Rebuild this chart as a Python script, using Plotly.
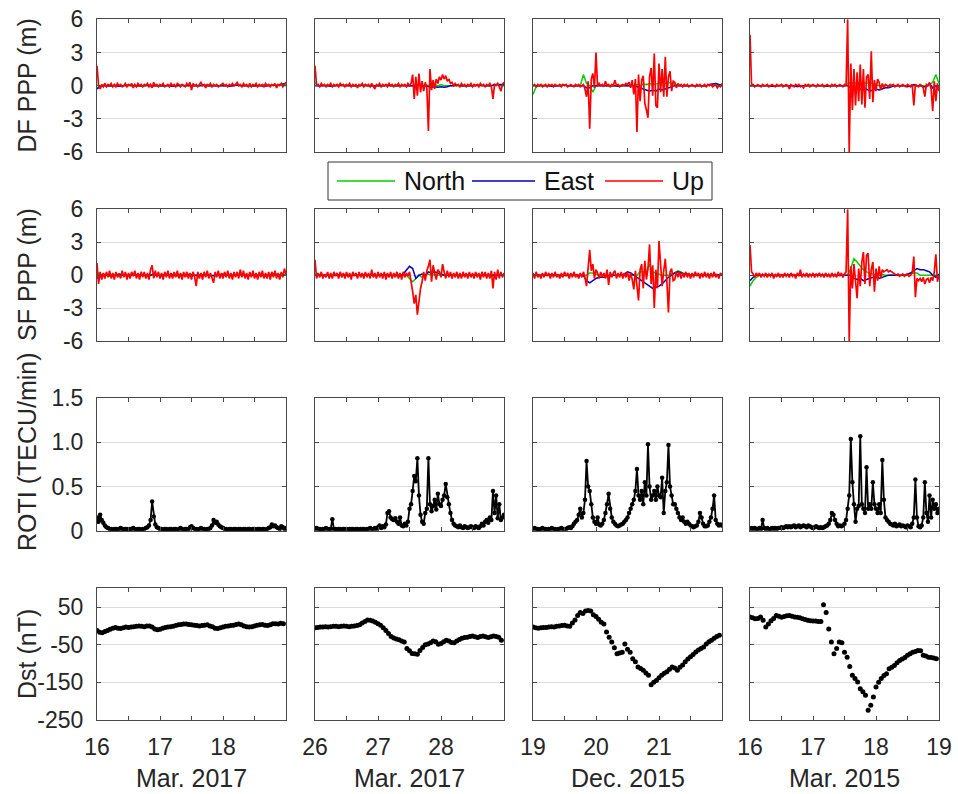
import numpy as np
import plotly.graph_objects as go
from plotly.subplots import make_subplots

# ---------------- data ----------------
DAY_STARTS = [16, 26, 19, 16]
MONTHS = ["Mar. 2017", "Mar. 2017", "Dec. 2015", "Mar. 2015"]
XTICK_TEXT = [["16", "", "17", "", "18", "", ""],
              ["26", "", "27", "", "28", "", ""],
              ["19", "", "20", "", "21", "", ""],
              ["16", "", "17", "", "18", "", "19"]]
ROW_TITLES = ["DF PPP (m)", "SF PPP (m)", "ROTI (TECU/min)", "Dst (nT)"]

# DF PPP Up (m), 121 samples over 3 days
DF_UP_1 = [1.8,0.0,-0.3,0.1,-0.1,0.2,-0.1,0.1,0.0,0.2,
 -0.1,0.1,-0.1,0.2,0.0,0.1,-0.1,0.0,0.2,-0.1,
 0.1,0.0,0.2,-0.2,0.1,-0.1,0.2,0.0,0.1,-0.1,
 0.1,0.0,0.2,-0.1,0.1,-0.2,0.3,0.0,0.1,-0.1,
 0.1,0.0,0.2,-0.1,0.0,0.1,-0.1,0.2,0.0,0.1,
 -0.1,0.2,0.1,-0.1,0.1,0.0,-0.1,0.2,0.0,0.3,
 -0.4,0.2,0.0,0.1,-0.1,0.1,0.3,0.0,0.1,-0.2,
 0.1,0.0,0.2,-0.1,0.1,0.0,0.1,-0.1,0.0,0.1,
 0.2,0.0,0.1,-0.1,0.1,0.0,0.2,0.0,0.1,0.3,
 0.0,0.1,-0.1,0.2,0.0,0.1,-0.1,0.2,-0.1,0.1,
 0.0,0.2,-0.1,0.1,0.0,0.1,-0.1,0.2,0.0,0.1,
 -0.1,0.1,0.0,0.2,-0.2,0.1,0.0,0.2,-0.1,0.1,0.3]
DF_UP_2 = [1.8,0.0,0.1,-0.1,0.2,0.0,0.1,-0.1,0.1,0.0,
 0.2,-0.1,0.1,0.0,0.1,-0.1,0.2,0.0,0.1,-0.1,
 0.1,0.0,0.2,-0.1,0.1,0.0,0.1,-0.2,0.1,0.0,
 0.2,-0.1,0.1,0.0,0.1,-0.1,0.2,0.0,-0.3,0.1,
 0.0,0.2,-0.1,0.1,0.0,0.1,-0.1,0.2,0.0,0.1,
 -0.1,0.1,0.0,0.2,-0.1,0.1,0.0,0.1,-0.1,0.2,
 0.0,0.2,1.0,-1.2,0.8,-0.9,1.1,-0.6,0.4,-0.5,
 0.3,-0.2,-4.1,1.5,-0.4,0.5,-0.3,0.6,0.2,0.8,
 0.5,1.0,0.6,0.9,0.4,0.6,0.2,0.3,0.0,0.2,
 0.0,0.1,-0.1,0.2,0.0,0.1,-0.1,0.1,0.0,0.2,
 -0.1,0.1,0.0,0.1,-0.1,0.2,0.0,0.1,-0.1,0.1,
 0.0,0.2,-0.1,-1.2,0.1,0.0,0.2,-0.1,-0.5,0.1,0.3]
DF_UP_3 = [0.0,0.1,-0.1,0.1,0.0,0.1,-0.1,0.0,0.1,-0.1,
 0.1,0.0,0.1,-0.1,0.1,0.0,0.0,0.1,-0.1,0.1,
 0.0,0.1,-0.1,0.0,0.1,0.0,-0.1,0.1,0.0,0.1,
 -0.1,0.0,0.1,-0.3,-1.0,0.4,-3.9,0.6,1.1,-0.2,
 3.0,-0.1,0.2,0.0,0.1,-0.1,0.4,0.0,0.1,-0.1,
 0.1,0.0,0.5,0.0,0.1,-0.1,0.0,0.1,0.0,0.2,
 0.1,0.3,-0.2,0.5,-0.8,0.6,-4.2,1.0,-1.4,0.5,
 0.9,-1.6,-2.2,-2.9,0.8,1.6,-0.9,2.9,-1.8,-2.0,
 2.0,-0.6,1.5,-1.0,2.6,-1.0,0.8,1.3,-0.5,0.4,
 0.3,-0.2,0.2,0.0,0.1,-0.1,0.1,0.0,0.1,-0.1,
 0.0,0.1,0.0,-0.1,0.1,0.0,0.1,-0.1,0.0,0.1,
 -0.1,0.1,0.0,0.1,-0.1,0.0,0.1,-0.2,0.0,-0.1,0.2]
DF_UP_4 = [4.6,0.0,0.1,-0.1,0.0,0.1,0.0,-0.1,0.1,0.0,
 0.0,0.1,-0.1,0.0,0.1,0.0,-0.1,0.1,0.0,0.0,
 0.1,-0.1,0.0,0.1,0.0,-0.3,0.1,0.0,-0.1,0.1,
 0.0,0.1,-0.1,0.0,-0.2,0.1,0.0,0.1,-0.1,0.0,
 0.1,0.0,-0.1,0.1,0.0,0.0,0.1,-0.1,0.0,0.1,
 0.0,-0.1,0.1,0.0,0.1,-0.1,0.0,0.1,0.0,-0.1,
 0.1,0.0,6.0,-6.0,2.0,-2.2,1.5,-1.8,1.2,-1.4,
 1.9,-1.7,1.5,-2.0,0.8,1.0,-1.2,3.1,-1.5,0.5,
 -0.5,0.6,0.3,-0.4,0.2,-0.2,0.1,0.0,-0.1,0.1,
 0.0,0.1,-0.1,0.0,0.1,-0.1,0.0,0.1,0.0,-0.1,
 0.1,0.0,-0.1,0.1,-1.8,0.1,0.0,-0.1,0.1,0.0,
 -0.2,-1.0,0.1,0.0,0.3,-0.3,-2.3,0.4,-1.4,0.2,-0.5]

# SF PPP Up (m), 121 samples over 3 days
SF_UP_1 = [1.1,-0.8,0.3,-0.4,0.2,-0.3,0.3,-0.2,0.4,-0.3,
 0.2,-0.4,0.3,-0.2,0.1,-0.3,0.4,-0.2,0.3,-0.4,
 0.2,-0.3,0.3,-0.1,0.4,-0.3,0.2,-0.4,0.3,-0.2,
 0.3,-0.3,0.2,-0.4,0.5,0.9,-0.3,0.4,-0.2,0.3,
 -0.3,0.2,-0.4,0.3,-0.2,0.4,-0.3,0.2,-0.3,0.3,
 -0.2,0.4,-0.3,0.2,-0.4,0.3,-0.2,0.3,-0.3,0.2,
 -0.4,0.3,-0.2,-1.0,0.3,-0.3,0.2,-0.4,0.3,-0.2,
 0.4,-0.3,0.2,-0.3,-0.7,0.3,-0.2,0.4,-0.3,0.2,
 -0.3,0.3,-0.2,0.4,-0.3,0.2,-0.4,0.3,-0.2,0.3,
 -0.3,0.5,-0.2,0.4,-0.3,0.2,-0.4,0.3,-0.2,0.4,
 -0.3,0.2,-0.4,0.3,-0.2,0.4,-0.3,0.2,-0.3,0.3,
 -0.4,0.3,-0.2,0.4,-0.3,0.2,-0.4,0.3,-0.2,0.6,0.1]
SF_UP_2 = [1.4,-0.3,0.2,-0.2,0.3,-0.3,0.1,-0.2,0.3,-0.3,
 0.2,-0.3,0.3,-0.1,0.2,-0.3,0.3,-0.2,0.2,-0.3,
 0.3,-0.2,0.2,-0.4,0.3,-0.1,0.2,-0.3,0.3,-0.2,
 0.2,-0.3,0.3,-0.2,0.2,-0.3,0.5,-0.2,0.2,-0.3,
 0.3,-0.2,0.2,-0.3,0.3,-0.4,0.2,-0.2,0.3,-0.3,
 0.2,-0.2,0.3,-0.3,0.2,-0.4,0.3,-0.2,0.2,-0.1,
 0.3,-0.5,-1.5,-2.6,-1.8,-3.6,-2.4,-1.2,-0.6,0.3,
 -0.5,0.4,0.8,1.4,-0.6,0.9,0.2,-0.4,0.5,0.3,
 -0.2,1.0,0.3,-0.3,0.4,-0.2,0.3,-0.3,0.2,-0.2,
 0.3,-0.3,0.2,-0.3,0.3,-0.2,0.2,-0.3,0.3,-0.2,
 0.2,-0.3,0.3,-0.2,0.2,-0.4,0.3,-0.2,0.3,-0.3,
 0.2,-0.3,0.4,-1.2,0.3,-0.4,0.5,-0.3,0.3,-0.2,0.2]
SF_UP_3 = [0.2,-0.3,0.3,-0.2,0.1,-0.3,0.2,-0.2,0.3,-0.1,
 0.2,-0.3,0.2,-0.2,0.3,-0.2,0.1,-0.3,0.2,-0.2,
 0.3,-0.1,0.2,-0.3,0.2,-0.2,0.3,-0.2,0.1,-0.3,
 0.2,-0.2,0.3,-0.2,-1.0,0.6,2.3,0.4,1.0,-0.3,
 0.5,0.2,-0.3,0.3,-0.2,0.2,-0.3,0.5,-0.9,0.3,
 -0.2,0.2,0.4,-0.3,0.2,-0.2,0.3,-0.3,0.2,-0.2,
 0.3,-0.5,0.2,-0.4,-1.3,0.4,-0.8,-2.3,0.5,1.0,
 -1.2,1.3,-0.4,0.6,2.8,-0.8,0.9,-3.0,0.5,-1.2,
 3.1,1.0,-1.0,0.4,1.5,-0.6,-3.4,0.3,0.6,-0.5,
 -0.4,0.3,-0.2,0.3,-0.3,0.2,-0.2,0.3,-0.2,0.2,
 -0.3,0.2,-0.2,0.3,-0.1,0.2,-0.3,0.2,-0.2,0.3,
 -0.2,0.2,-0.3,0.2,-0.2,0.3,-0.2,0.1,-0.3,0.2,0.0]
SF_UP_4 = [2.75,0.3,0.1,-0.2,0.2,-0.1,0.2,-0.2,0.1,-0.1,
 0.2,-0.2,0.1,-0.1,0.2,-0.3,0.1,-0.1,0.2,-0.2,
 0.1,-0.2,0.2,-0.1,0.1,-0.2,0.2,-0.1,0.1,-0.3,
 0.2,-0.1,0.5,-0.2,0.1,-0.1,0.2,-0.2,0.1,-0.1,
 0.2,-0.2,0.1,-0.1,0.2,-0.1,0.1,-0.2,0.2,-0.1,
 0.1,-0.2,0.2,-0.1,0.1,-0.2,0.3,-0.1,0.2,-0.2,
 0.1,0.3,6.0,-6.0,0.8,-1.2,1.0,-0.8,-2.1,0.6,
 -1.0,1.2,2.1,-0.8,1.8,2.0,-1.0,0.5,1.2,-1.5,
 0.6,-0.5,0.8,-0.3,0.5,0.3,0.4,0.5,0.3,0.4,
 0.3,0.2,0.1,0.0,0.1,-0.1,0.0,0.1,-0.1,0.0,
 0.1,-0.1,0.0,0.2,1.7,-2.0,-0.3,-0.5,-0.3,-0.6,
 -0.2,-0.8,-0.4,-0.3,-0.7,-0.2,-0.5,0.3,1.9,-0.6,0.0]

# North / East (m), 61 samples over 3 days
DF_N_1 = [-0.2,0.0,0.05,0.0,-0.05,0.0,0.05,0.0,0.0,-0.05,0.0,0.05,0.0,0.0,-0.05,0.0,0.0,0.05,0.0,0.0,
 0.0,-0.05,0.0,0.05,0.0,0.0,0.0,-0.05,0.0,0.05,0.0,0.0,0.0,0.05,0.0,-0.05,0.0,0.0,0.05,0.0,
 0.0,0.0,-0.05,0.0,0.05,0.0,0.0,0.0,0.05,0.0,-0.05,0.0,0.0,0.05,0.0,0.0,0.0,0.05,0.1,0.05,0.0]
DF_E_1 = [-0.3,-0.1,0.0,0.0,0.05,0.0,0.0,-0.05,0.0,0.0,0.05,0.0,0.0,0.0,-0.05,0.0,0.05,0.0,0.0,0.0,
 0.0,0.05,0.0,0.0,-0.05,0.0,0.0,0.05,0.0,0.0,0.0,-0.05,0.0,0.0,0.05,0.0,0.0,0.0,0.0,0.05,
 0.0,0.0,-0.05,0.0,0.0,0.05,0.0,0.0,0.0,0.0,0.05,0.0,0.0,-0.05,0.0,0.0,0.05,0.0,0.1,0.15,0.2]
DF_N_2 = [0.3,0.0,0.0,0.05,0.0,0.0,-0.05,0.0,0.0,0.05,0.0,0.0,0.0,-0.05,0.0,0.0,0.05,0.0,0.0,0.0,
 0.0,0.05,0.0,0.0,-0.05,0.0,0.0,0.0,0.05,0.0,0.0,0.0,0.0,0.1,-0.1,0.1,0.0,0.15,0.1,0.0,
 0.1,0.0,0.0,0.0,0.05,0.0,0.0,-0.05,0.0,0.0,0.0,0.05,0.0,0.0,0.0,-0.05,0.0,0.05,0.1,0.0,0.0]
DF_E_2 = [0.0,0.0,0.05,0.0,0.0,-0.05,0.0,0.0,0.05,0.0,0.0,0.0,-0.05,0.0,0.0,0.05,0.0,0.0,0.0,0.0,
 -0.05,0.0,0.0,0.05,0.0,0.0,0.0,0.0,-0.05,0.0,0.0,0.0,0.05,0.0,0.0,0.0,-0.1,-0.15,-0.1,-0.15,
 -0.1,-0.15,-0.1,0.0,0.0,0.05,0.0,0.0,0.0,-0.05,0.0,0.0,0.05,0.0,0.0,0.0,0.0,0.1,0.1,0.15,0.1]
DF_N_3 = [-0.8,-0.1,0.0,0.05,0.0,0.0,-0.05,0.0,0.0,0.05,0.0,0.0,0.0,-0.05,0.0,0.0,1.0,0.2,0.0,-0.6,
 0.0,0.05,0.0,0.0,0.0,-0.05,0.0,0.0,0.05,0.0,0.0,0.0,0.0,0.1,0.0,0.15,0.1,0.2,0.1,0.15,
 0.2,0.3,0.2,0.3,0.2,0.1,0.05,0.0,0.0,0.0,0.05,0.0,0.0,0.0,-0.05,0.0,0.0,0.05,0.0,0.0,0.0]
DF_E_3 = [0.0,0.0,0.05,0.0,0.0,0.0,-0.05,0.0,0.0,0.0,0.05,0.0,0.0,0.0,0.0,-0.05,0.0,-0.2,-0.2,0.0,
 0.0,0.0,0.05,0.0,0.0,0.0,0.0,-0.05,0.0,0.0,0.0,0.0,0.0,-0.1,-0.2,-0.3,-0.4,-0.5,-0.4,-0.5,
 -0.3,-0.4,-0.3,-0.2,-0.1,0.0,0.0,0.0,0.05,0.0,0.0,0.0,0.0,0.0,0.05,0.0,0.1,0.15,0.2,0.1,0.0]
DF_N_4 = [0.0,0.0,0.0,0.05,0.0,0.0,0.0,-0.05,0.0,0.0,0.05,0.0,0.0,0.0,0.0,0.0,-0.05,0.0,0.0,0.05,
 0.0,0.0,0.0,0.0,0.0,0.05,0.0,0.0,0.0,0.0,0.0,0.2,0.3,0.2,0.3,0.2,0.3,0.2,0.3,0.2,
 0.1,0.0,0.0,0.05,0.0,0.0,0.0,0.0,0.0,0.0,0.05,0.0,0.0,0.0,0.0,0.05,0.0,0.1,0.3,1.0,0.2]
DF_E_4 = [0.0,0.0,0.05,0.0,0.0,0.0,0.0,-0.05,0.0,0.0,0.0,0.0,0.05,0.0,0.0,-0.1,0.0,0.0,0.0,0.05,
 0.0,0.0,0.0,0.0,-0.05,0.0,0.0,0.0,0.0,0.0,0.0,0.0,-0.2,-0.3,-0.2,-0.3,-0.4,-0.3,-0.5,-0.4,
 -0.3,-0.4,-0.3,-0.2,-0.2,-0.1,0.0,0.0,0.0,0.0,-0.1,0.0,0.1,0.0,0.0,-0.1,-0.1,0.2,-0.2,0.0,-0.3]
SF_N_1 = [0.4,-0.2,0.1,0.0,-0.1,0.05,0.0,0.1,0.0,-0.05,0.0,0.1,0.0,-0.1,0.0,0.05,0.0,0.0,0.1,0.0,
 -0.05,0.0,0.1,0.0,0.0,-0.1,0.0,0.05,0.0,0.1,0.0,-0.05,0.0,0.0,0.1,0.0,-0.1,0.0,0.05,0.0,
 0.1,0.0,0.0,-0.05,0.0,0.1,0.0,0.0,-0.1,0.0,0.05,0.0,0.1,0.0,0.0,-0.05,0.0,0.1,0.0,0.05,0.0]
SF_E_1 = [-0.3,0.0,0.05,0.0,0.0,-0.05,0.0,0.1,0.0,0.0,-0.05,0.0,0.05,0.0,0.0,0.0,-0.05,0.0,0.1,0.0,
 0.0,0.0,-0.05,0.0,0.05,0.0,0.0,0.0,-0.1,0.0,0.05,0.0,0.0,0.0,0.0,0.05,0.0,-0.05,0.0,0.0,
 0.05,0.0,0.0,0.0,-0.05,0.0,0.1,0.0,0.0,0.0,0.05,0.0,0.0,-0.05,0.0,0.0,0.1,0.0,0.0,0.05,0.0]
SF_N_2 = [0.0,0.0,0.05,0.0,0.0,-0.05,0.0,0.0,0.05,0.0,0.0,0.0,-0.05,0.0,0.0,0.05,0.0,0.0,0.0,0.0,
 0.05,0.0,0.0,-0.05,0.0,0.0,0.0,0.05,0.0,0.0,-0.3,-0.6,-0.3,0.0,-0.2,0.0,0.1,0.0,0.05,0.0,
 0.0,0.05,0.0,0.0,0.0,-0.05,0.0,0.0,0.05,0.0,0.0,0.0,0.0,-0.05,0.0,0.0,0.05,0.0,0.0,0.0,0.0]
SF_E_2 = [0.0,0.05,0.0,0.0,-0.05,0.0,0.0,0.0,0.05,0.0,0.0,-0.05,0.0,0.0,0.0,0.05,0.0,0.0,0.0,-0.05,
 0.0,0.0,0.05,0.0,0.0,0.0,0.0,-0.05,0.1,0.5,0.8,0.6,-0.3,0.0,0.1,0.0,0.3,0.2,0.3,0.2,
 0.1,0.0,0.05,0.0,0.0,0.0,-0.05,0.0,0.0,0.05,0.0,0.0,0.0,0.0,0.05,0.0,0.0,-0.05,0.0,0.0,0.0]
SF_N_3 = [0.0,0.05,0.0,0.0,-0.05,0.0,0.0,0.05,0.0,0.0,0.0,-0.05,0.0,0.0,0.05,0.0,0.0,0.0,0.2,0.2,
 0.1,0.0,0.0,0.0,-0.2,0.0,0.0,0.05,0.0,0.0,0.0,0.0,0.05,0.0,0.3,0.3,0.3,1.0,0.3,0.2,
 0.1,0.0,0.0,0.0,0.1,0.2,0.4,0.3,0.1,0.0,0.0,0.05,0.0,0.0,0.0,-0.05,0.0,0.0,0.05,0.0,0.0]
SF_E_3 = [0.0,0.0,-0.05,0.0,0.0,0.05,0.0,0.0,0.0,-0.05,0.0,0.0,0.05,0.0,0.0,0.0,-0.05,-0.5,-0.7,-0.5,
 -0.3,-0.2,-0.2,-0.2,0.0,0.0,0.05,0.0,0.0,0.1,0.3,0.2,0.0,-0.2,-0.4,-0.6,-0.8,-1.0,-1.2,-1.1,
 -1.0,-0.8,-0.5,-0.2,0.0,0.2,0.3,0.2,0.1,0.1,0.0,0.0,0.05,0.0,0.0,0.0,-0.05,0.0,0.05,0.0,0.0]
SF_N_4 = [-1.0,-0.5,-0.2,0.0,0.0,0.05,0.0,0.0,-0.05,0.0,0.0,0.05,0.0,0.0,0.0,0.0,-0.05,0.0,0.0,0.05,
 0.0,0.0,0.0,0.0,0.05,0.0,0.0,-0.05,0.0,0.0,0.0,0.0,0.6,1.5,1.2,0.8,0.5,0.3,0.2,0.1,
 0.0,0.0,0.05,0.0,0.0,0.0,0.0,0.05,0.0,0.0,0.0,0.2,0.2,0.2,0.0,0.0,0.0,0.05,0.0,0.0,0.0]
SF_E_4 = [-0.5,-0.2,0.0,0.0,0.05,0.0,0.0,0.0,-0.05,0.0,0.0,0.0,0.05,0.0,0.0,0.0,0.0,-0.05,0.0,0.0,
 0.0,0.05,0.0,0.0,0.0,-0.05,0.0,0.0,0.0,0.05,0.0,0.0,0.0,-0.3,-0.4,-0.3,-0.5,-0.4,-0.3,-0.2,
 -0.1,-0.3,-0.2,-0.1,0.0,0.0,0.0,0.05,0.0,0.0,0.1,0.2,0.4,0.6,0.5,0.5,0.4,0.3,0.0,-0.2,0.1]

# ROTI (TECU/min), 121 samples over 3 days
ROTI_1 = [0.15,0.10,0.18,0.12,0.09,0.06,0.04,0.03,0.02,0.02,
 0.01,0.02,0.02,0.01,0.02,0.03,0.02,0.01,0.02,0.02,
 0.01,0.02,0.02,0.03,0.02,0.01,0.02,0.02,0.01,0.02,
 0.02,0.03,0.04,0.06,0.12,0.33,0.16,0.07,0.04,0.03,
 0.02,0.02,0.01,0.02,0.02,0.01,0.02,0.02,0.01,0.02,
 0.02,0.01,0.02,0.03,0.02,0.01,0.02,0.02,0.01,0.04,
 0.05,0.03,0.02,0.02,0.01,0.02,0.03,0.02,0.02,0.01,
 0.02,0.02,0.03,0.06,0.12,0.09,0.10,0.07,0.05,0.04,
 0.03,0.02,0.02,0.01,0.02,0.02,0.01,0.02,0.02,0.01,
 0.02,0.02,0.01,0.02,0.02,0.01,0.02,0.02,0.01,0.02,
 0.02,0.01,0.02,0.02,0.01,0.02,0.02,0.01,0.02,0.03,
 0.04,0.07,0.05,0.06,0.04,0.03,0.02,0.05,0.04,0.02,0.03]
ROTI_2 = [0.02,0.03,0.02,0.02,0.01,0.02,0.02,0.03,0.02,0.02,
 0.02,0.13,0.02,0.02,0.01,0.02,0.02,0.01,0.02,0.02,
 0.02,0.01,0.02,0.02,0.02,0.01,0.02,0.02,0.01,0.02,
 0.02,0.02,0.01,0.02,0.02,0.03,0.02,0.02,0.03,0.02,
 0.04,0.06,0.03,0.05,0.04,0.07,0.20,0.22,0.15,0.13,
 0.12,0.14,0.10,0.08,0.15,0.06,0.05,0.08,0.06,0.10,
 0.25,0.30,0.45,0.62,0.56,0.82,0.40,0.18,0.10,0.08,
 0.20,0.25,0.82,0.30,0.22,0.28,0.35,0.24,0.42,0.30,
 0.28,0.35,0.40,0.53,0.38,0.30,0.20,0.12,0.08,0.06,
 0.05,0.04,0.06,0.04,0.03,0.05,0.04,0.03,0.04,0.05,
 0.04,0.03,0.05,0.04,0.03,0.05,0.08,0.06,0.10,0.12,
 0.09,0.15,0.12,0.45,0.20,0.40,0.14,0.30,0.12,0.15,0.18]
ROTI_3 = [0.02,0.03,0.02,0.02,0.01,0.02,0.03,0.02,0.02,0.01,
 0.02,0.02,0.03,0.02,0.02,0.01,0.02,0.02,0.03,0.02,
 0.02,0.02,0.03,0.04,0.03,0.05,0.08,0.10,0.12,0.18,
 0.25,0.15,0.20,0.35,0.79,0.50,0.45,0.30,0.15,0.10,
 0.08,0.15,0.07,0.06,0.08,0.12,0.20,0.30,0.42,0.25,
 0.15,0.10,0.08,0.06,0.05,0.06,0.07,0.08,0.10,0.12,
 0.15,0.20,0.25,0.30,0.35,0.45,0.70,0.40,0.35,0.45,
 0.30,0.55,0.40,0.98,0.50,0.35,0.40,0.45,0.35,0.50,
 0.40,0.38,0.60,0.20,0.45,0.55,0.97,0.50,0.40,0.30,
 0.30,0.25,0.20,0.15,0.12,0.15,0.10,0.08,0.10,0.08,
 0.06,0.05,0.04,0.05,0.06,0.10,0.20,0.15,0.08,0.05,
 0.05,0.06,0.10,0.15,0.25,0.40,0.12,0.08,0.06,0.07,0.06]
ROTI_4 = [0.02,0.03,0.02,0.03,0.02,0.02,0.03,0.02,0.12,0.03,
 0.02,0.03,0.02,0.02,0.03,0.02,0.03,0.02,0.03,0.03,
 0.04,0.03,0.04,0.05,0.04,0.05,0.04,0.05,0.06,0.04,
 0.05,0.06,0.04,0.05,0.06,0.05,0.04,0.06,0.05,0.04,
 0.03,0.04,0.05,0.04,0.03,0.04,0.03,0.04,0.05,0.06,
 0.08,0.12,0.20,0.18,0.12,0.08,0.05,0.06,0.05,0.06,
 0.08,0.12,0.25,0.40,1.04,0.55,0.30,0.10,0.25,0.28,
 1.07,0.30,0.25,0.20,0.72,0.25,0.30,0.25,0.55,0.30,
 0.25,0.20,0.30,0.20,0.80,0.35,0.15,0.12,0.10,0.08,
 0.07,0.06,0.08,0.05,0.06,0.07,0.05,0.06,0.05,0.04,
 0.06,0.05,0.04,0.08,0.15,0.58,0.15,0.05,0.04,0.06,
 0.15,0.55,0.20,0.10,0.40,0.15,0.35,0.25,0.30,0.20,0.25]

# Dst (nT), hourly, 72 values
DST_1 = [-12,-17,-18,-15,-12,-9, -6,-4,-6,-7,-5,-3, -4,-3,-2,-1,0,-1, -2,0,0,-3,-8,-10,
         -9,-6,-4,-3,-2,-1, 1,3,4,5,5,4, 3,2,1,0,1,2, 3,0,-2,-6,-7,-5,
         -3,-1,0,1,2,4, 5,3,0,-2,-3,-2, 0,2,3,4,2,1, 3,6,6,5,7,6]
DST_2 = [-5,-4,-3,-3,-2,-3, -2,-1,-1,-2,-1,0, -1,-2,-1,0,1,3, 8,12,16,15,13,10,
         6,2,-5,-12,-20,-28, -32,-35,-37,-40,-43,-60, -66,-73,-74,-75,-65,-57, -50,-48,-45,-40,-42,-49,
         -47,-42,-38,-40,-44,-45, -40,-36,-33,-31,-30,-28, -27,-29,-31,-28,-27,-29, -31,-29,-27,-28,-30,-38]
DST_3 = [-3,-5,-6,-5,-4,-4, -3,-2,-3,-1,0,1, 2,0,-1,8,16,28, 36,33,40,41,40,30,
         25,18,10,5,-16,-30, -43,-58,-74,-72,-70,-48, -62,-70,-87,-95,-109,-113, -118,-125,-131,-156,-150,-145,
         -138,-131,-126,-122,-115,-109, -112,-118,-110,-104,-95,-88, -82,-76,-69,-64,-60,-56, -48,-42,-38,-33,-28,-25]
DST_4 = [24,22,19,20,24,15, -3,5,14,20,28,26, 23,25,27,28,26,24, 23,22,19,17,15,14,
         13,13,12,12,56,36, -8,-43,-74,-60,-43,-45, -70,-83,-108,-131,-140,-149, -167,-175,-184,-224,-211,-189,
         -162,-150,-140,-132,-127,-114, -110,-105,-98,-92,-88,-84, -78,-74,-70,-68,-65,-66, -78,-80,-83,-84,-85,-87]

DF_UP = [DF_UP_1, DF_UP_2, DF_UP_3, DF_UP_4]
SF_UP = [SF_UP_1, SF_UP_2, SF_UP_3, SF_UP_4]
DF_N = [DF_N_1, DF_N_2, DF_N_3, DF_N_4]
DF_E = [DF_E_1, DF_E_2, DF_E_3, DF_E_4]
SF_N = [SF_N_1, SF_N_2, SF_N_3, SF_N_4]
SF_E = [SF_E_1, SF_E_2, SF_E_3, SF_E_4]
ROTI = [ROTI_1, ROTI_2, ROTI_3, ROTI_4]
DST = [DST_1, DST_2, DST_3, DST_4]

# ---------------- layout geometry (page pixels) ----------------
W, H = 958, 794
COL_PX = [(97, 286), (315, 504), (533, 722), (750, 939)]
ROW_PX = [(19.3, 152), (209.3, 341), (398.3, 530.7), (588.3, 720)]
FONT = "Liberation Sans, Arial, sans-serif"
TXT = "#262626"
AX = "#4a4a4a"
GRID = "#dcdcdc"
C_N, C_E, C_U = "#00d000", "#0000c0", "#ff0000"
TICK_SIZE = 23
LABEL_SIZE = 25

def px_x(x):
    return x / W

def px_y(y):
    return 1 - y / H

fig = make_subplots(rows=4, cols=4)

for c in range(4):
    d0 = DAY_STARTS[c]
    for r, (ups, ns, es) in enumerate([(DF_UP, DF_N, DF_E), (SF_UP, SF_N, SF_E)], start=1):
        tn = d0 + np.linspace(0, 3, len(ns[c]))
        te = d0 + np.linspace(0, 3, len(es[c]))
        tu = d0 + np.linspace(0, 3, len(ups[c]))
        fig.add_trace(go.Scatter(x=tn, y=ns[c], mode="lines", line=dict(color=C_N, width=1.5),
                                 showlegend=False, hoverinfo="skip"), row=r, col=c + 1)
        fig.add_trace(go.Scatter(x=te, y=es[c], mode="lines", line=dict(color=C_E, width=1.5),
                                 showlegend=False, hoverinfo="skip"), row=r, col=c + 1)
        fig.add_trace(go.Scatter(x=tu, y=ups[c], mode="lines", line=dict(color=C_U, width=1.7),
                                 showlegend=False, hoverinfo="skip"), row=r, col=c + 1)
    tr = d0 + np.linspace(0, 3, len(ROTI[c]))
    fig.add_trace(go.Scatter(x=tr, y=ROTI[c], mode="lines+markers",
                             line=dict(color="black", width=1.8),
                             marker=dict(color="black", size=4.5),
                             showlegend=False, hoverinfo="skip"), row=3, col=c + 1)
    th = d0 + np.arange(len(DST[c])) / 24.0
    fig.add_trace(go.Scatter(x=th, y=DST[c], mode="markers",
                             marker=dict(color="black", size=5),
                             showlegend=False, hoverinfo="skip"), row=4, col=c + 1)

Y_SPECS = [
    dict(range=[-6, 6], tickvals=[-6, -3, 0, 3, 6], ticktext=["-6", "-3", "0", "3", "6"]),
    dict(range=[-6, 6], tickvals=[-6, -3, 0, 3, 6], ticktext=["-6", "-3", "0", "3", "6"]),
    dict(range=[0, 1.5], tickvals=[0, 0.5, 1.0, 1.5], ticktext=["0", "0.5", "1.0", "1.5"]),
    dict(range=[-250, 100], tickvals=[-250, -150, -50, 50], ticktext=["-250", "-150", "-50", "50"]),
]

for r in range(1, 5):
    for c in range(1, 5):
        k = (r - 1) * 4 + c
        xn = "xaxis" if k == 1 else f"xaxis{k}"
        yn = "yaxis" if k == 1 else f"yaxis{k}"
        d0 = DAY_STARTS[c - 1]
        x0, x1 = COL_PX[c - 1]
        y0, y1 = ROW_PX[r - 1]
        fig.layout[xn].update(
            domain=[px_x(x0), px_x(x1)], range=[d0, d0 + 3], automargin=False,
            tickvals=[d0 + 0.5 * i for i in range(7)],
            ticktext=XTICK_TEXT[c - 1], showticklabels=(r == 4),
            ticks="inside", ticklen=4, tickcolor=AX, tickwidth=1,
            showline=True, linecolor=AX, linewidth=1, mirror="ticks",
            showgrid=False, zeroline=False, ticklabeloverflow="allow",
            tickfont=dict(family=FONT, size=TICK_SIZE, color=TXT), ticklabelstandoff=6,
        )
        ys = Y_SPECS[r - 1]
        fig.layout[yn].update(
            domain=[px_y(y1), px_y(y0)], range=ys["range"], automargin=False,
            tickvals=ys["tickvals"], ticktext=ys["ticktext"], showticklabels=(c == 1),
            ticks="inside", ticklen=4, tickcolor=AX, tickwidth=1,
            showline=True, linecolor=AX, linewidth=1, mirror="ticks",
            showgrid=True, gridcolor=GRID, gridwidth=1, zeroline=False,
            ticklabeloverflow="allow",
            tickfont=dict(family=FONT, size=TICK_SIZE, color=TXT), ticklabelstandoff=8,
        )

annotations = []
title_centers = [85.5, 275, 452, 654]
for r in range(4):
    annotations.append(dict(text=ROW_TITLES[r], x=px_x(27), y=px_y(title_centers[r]),
                            xref="paper", yref="paper", xanchor="center", yanchor="middle",
                            textangle=-90, showarrow=False,
                            font=dict(family=FONT, size=LABEL_SIZE, color=TXT)))
for c in range(4):
    x0, x1 = COL_PX[c]
    annotations.append(dict(text=MONTHS[c], x=px_x((x0 + x1) / 2), y=px_y(778),
                            xref="paper", yref="paper", xanchor="center", yanchor="middle",
                            showarrow=False, font=dict(family=FONT, size=LABEL_SIZE, color=TXT)))

# legend drawn as shapes + text
LEG_BOX = (328, 162, 712, 200)
LEG_ITEMS = [("North", C_N, 337, 395, 402), ("East", C_E, 472, 535, 542), ("Up", C_U, 605, 663, 670)]
shapes = [dict(type="rect", xref="paper", yref="paper",
               x0=px_x(LEG_BOX[0]), x1=px_x(LEG_BOX[2]), y0=px_y(LEG_BOX[3]), y1=px_y(LEG_BOX[1]),
               line=dict(color="#333333", width=1), fillcolor="white", layer="above")]
ly = (LEG_BOX[1] + LEG_BOX[3]) / 2
for name, col, lx0, lx1, tx in LEG_ITEMS:
    shapes.append(dict(type="line", xref="paper", yref="paper",
                       x0=px_x(lx0), x1=px_x(lx1), y0=px_y(ly), y1=px_y(ly),
                       line=dict(color=col, width=1.3), layer="above"))
    annotations.append(dict(text=name, x=px_x(tx), y=px_y(ly), xref="paper", yref="paper",
                            xanchor="left", yanchor="middle", showarrow=False,
                            font=dict(family=FONT, size=LABEL_SIZE, color="#111111")))

fig.update_layout(width=W, height=H, margin=dict(l=0, r=0, t=0, b=0, autoexpand=False),
                  paper_bgcolor="white", plot_bgcolor="white",
                  showlegend=False, annotations=annotations, shapes=shapes,
                  font=dict(family=FONT, color=TXT))

# remove the default page margin so the 958x794 figure fills the window exactly
fig.write_html("out.html",
               config={"displayModeBar": False},
               post_script="document.body.style.margin='0px';document.body.style.overflow='hidden';")
